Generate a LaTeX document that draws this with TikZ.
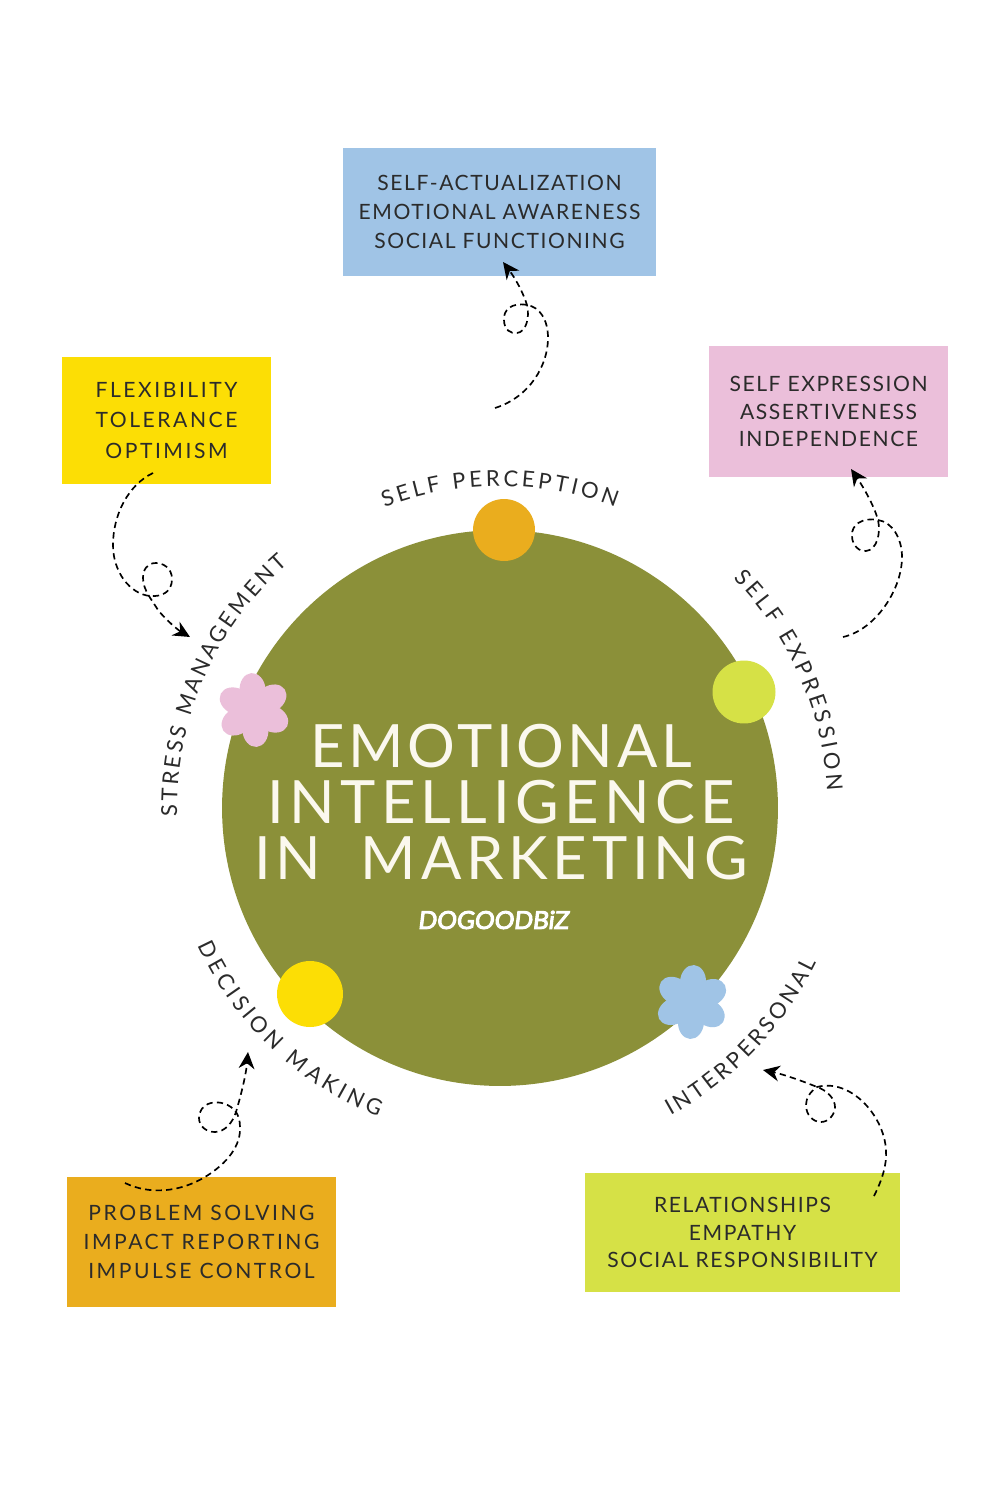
\documentclass[tikz,border=0pt]{standalone}
\usepackage{fontspec}
\usepackage{xcolor}
\usetikzlibrary{arrows.meta, positioning, calc, decorations.text}
\setmainfont{Lato}
\newfontfamily\boxfont[LetterSpace=12]{Lato}
\newfontfamily\tightfont[LetterSpace=7.5]{Lato}
\newfontfamily\titlefont[LetterSpace=6]{Lato}
\newfontfamily\logofont[FakeBold=4, FakeSlant=0.12]{Lato}
\definecolor{olive}{HTML}{8B9039}
\definecolor{skyblue}{HTML}{A0C4E6}
\definecolor{rosepink}{HTML}{EBBFDA}
\definecolor{sunyellow}{HTML}{FCDE05}
\definecolor{amber}{HTML}{EAAD1E}
\definecolor{lime}{HTML}{D6E146}
\definecolor{ink}{HTML}{2B2B2B}
\definecolor{cream}{HTML}{FBF8EE}
\newcommand{\lblfont}{\fontsize{12.5}{15}\selectfont\color{ink}}

\begin{document}
\begin{tikzpicture}[
    x=0.02cm, y=-0.02cm,
    infobox/.style={rectangle, fill=#1, inner sep=0pt, align=center, text=ink},
    dot/.style={circle, fill=#1, inner sep=0pt},
    curl/.style={-{Stealth[length=9.5pt, width=9pt]}, line width=0.95pt, color=black,
                 dash pattern=on 3.6pt off 2.4pt},
    arclabel/.style={decorate, decoration={text along path, text={|\lblfont|#1},
                 text align=fit to path}},
    flower/.pic={
        \fill[#1] (0,0) circle (15);
        \foreach \a in {0,60,...,300}
            \fill[#1, rotate=\a] (0,-20) ellipse[x radius=13, y radius=17];
    }
]
\path[use as bounding box, fill=white] (0,0) rectangle (1000,1500);

% Central circle
\node[dot=olive, minimum size=11.12cm] (hub) at (500,808) {};

% Markers on the rim
\node[dot=amber, minimum size=1.24cm] (mperception) at (504,530) {};
\node[dot=lime, minimum size=1.26cm] (mexpression) at (744,692) {};
\node[dot=sunyellow, minimum size=1.32cm] (mdecision) at (310,994) {};
\pic[rotate=4] (mstress) at (254,710) {flower=rosepink};
\pic[rotate=-3] (mpersonal) at (692,1002) {flower=skyblue};

% Title
\node[align=center, text=cream, font=\titlefont\fontsize{34}{32}\selectfont] (title) at (501,802)
    {EMOTIONAL\\{\addfontfeature{LetterSpace=9}INTELLIGENCE}\\{\addfontfeature{LetterSpace=8}IN\hspace{11pt} MARKETING}};
\node[text=white, font=\logofont\fontsize{14}{18}\selectfont] (logo) at (493,920) {DOGOODBiZ};

% Labels round the circle
\path[arclabel={SELF PERCEPTION}] ([shift={(111:6.44cm)}]hub.center) arc[start angle=111, end angle=69, radius=6.44cm];
\path[arclabel={SELF EXPRESSION}] ([shift={(44.5:6.55cm)}]hub.center) arc[start angle=44.5, end angle=3, radius=6.55cm];
\path[arclabel={STRESS MANAGEMENT}] ([shift={(181.5:6.46cm)}]hub.center) arc[start angle=181.5, end angle=131, radius=6.46cm];
\path[arclabel={DECISION MAKING}] ([shift={(204.5:6.64cm)}]hub.center) arc[start angle=204.5, end angle=248.5, radius=6.64cm];
\path[arclabel={INTERPERSONAL}] ([shift={(-61:7.04cm)}]hub.center) arc[start angle=-61, end angle=-26, radius=7.04cm];

% Boxes
\node[infobox=skyblue, minimum width=6.26cm, minimum height=2.56cm,
      font=\tightfont\fontsize{12}{16.5}\selectfont] (actual) at (499.5,212)
    {SELF-ACTUALIZATION\\EMOTIONAL AWARENESS\\SOCIAL FUNCTIONING};
\node[infobox=rosepink, minimum width=4.78cm, minimum height=2.62cm,
      font=\tightfont\fontsize{12}{15.5}\selectfont] (express) at (828.5,411.5)
    {SELF EXPRESSION\\ASSERTIVENESS\\INDEPENDENCE};
\node[infobox=sunyellow, minimum width=4.18cm, minimum height=2.54cm,
      font=\boxfont\fontsize{12}{17.6}\selectfont] (flex) at (166.5,420.5)
    {FLEXIBILITY\\TOLERANCE\\OPTIMISM};
\node[infobox=amber, minimum width=5.38cm, minimum height=2.6cm,
      font=\boxfont\fontsize{12}{16.5}\selectfont] (problem) at (201.5,1242)
    {PROBLEM SOLVING\\IMPACT REPORTING\\IMPULSE CONTROL};
\node[infobox=lime, minimum width=6.3cm, minimum height=2.38cm,
      font=\tightfont\fontsize{12}{15.6}\selectfont] (social) at (742.5,1232.5)
    {RELATIONSHIPS\\EMPATHY\\SOCIAL RESPONSIBILITY};

% Free ends of the curls
\coordinate (c1s) at (495,408);
\coordinate (c1e) at (503,262);
\coordinate (c2s) at (843,637);
\coordinate (c2e) at (851,469);
\coordinate (c3s) at (153,473);
\coordinate (c3e) at (190,637);
\coordinate (c4s) at (125,1183);
\coordinate (c4e) at (248,1052);
\coordinate (c5s) at (874,1196);
\coordinate (c5e) at (763,1070);

% Curls
\draw[curl] (c1s) .. controls (530,397) and (548,365) .. (548,338)
    .. controls (548,320) and (540,307) .. (527,305)
    .. controls (512,302) and (503,310) .. (504,320)
    .. controls (504,330) and (511,334) .. (517,333)
    .. controls (526,332) and (530,318) .. (527,305)
    .. controls (523,292) and (515,278) .. (c1e);
\draw[curl] (c2s) .. controls (875,630) and (902,590) .. (902,557)
    .. controls (902,538) and (892,522) .. (878,520)
    .. controls (862,517) and (851,525) .. (852,536)
    .. controls (852,546) and (860,552) .. (866,551)
    .. controls (877,550) and (881,533) .. (878,520)
    .. controls (874,505) and (862,485) .. (c2e);
\draw[curl] (c3s) .. controls (128,485) and (113,515) .. (113,545)
    .. controls (113,572) and (130,594) .. (150,596)
    .. controls (162,597) and (172,592) .. (172,579)
    .. controls (172,568) and (163,563) .. (156,563)
    .. controls (147,563) and (143,570) .. (143,578)
    .. controls (143,590) and (152,600) .. (158,610)
    .. controls (166,620) and (178,630) .. (c3e);
\draw[curl] (c4s) .. controls (150,1195) and (180,1192) .. (205,1177)
    .. controls (228,1163) and (241,1145) .. (240,1127)
    .. controls (240,1120) and (238,1115) .. (236,1112)
    .. controls (230,1104) and (220,1101) .. (211,1103)
    .. controls (203,1105) and (199,1111) .. (199,1118)
    .. controls (199,1127) and (207,1132) .. (215,1132)
    .. controls (225,1132) and (233,1122) .. (236,1112)
    .. controls (241,1095) and (246,1075) .. (c4e);
\draw[curl] (c5s) .. controls (882,1180) and (887,1165) .. (886,1150)
    .. controls (884,1115) and (850,1078) .. (817,1087)
    .. controls (810,1092) and (806,1098) .. (806,1105)
    .. controls (806,1115) and (813,1122) .. (821,1122)
    .. controls (829,1122) and (835,1114) .. (835,1107)
    .. controls (835,1098) and (826,1090) .. (817,1087)
    .. controls (800,1080) and (782,1074) .. (c5e);

\end{tikzpicture}
\end{document}
